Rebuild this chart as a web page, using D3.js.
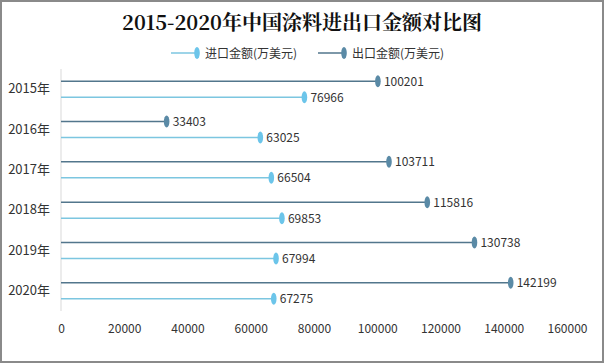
<!DOCTYPE html>
<html><head><meta charset="utf-8">
<script src="https://cdn.jsdelivr.net/npm/d3@7"></script>
<style>body{margin:0;background:#fff}svg{display:block}</style>
</head><body>
<script>
const years = ["2015年","2016年","2017年","2018年","2019年","2020年"];
const importValues = [76966, 63025, 66504, 69853, 67994, 67275];
const exportValues = [100201, 33403, 103711, 115816, 130738, 142199];
const xTicks = [0,20000,40000,60000,80000,100000,120000,140000,160000];
const seriesNames = ["进口金额(万美元)","出口金额(万美元)"];
const title = "2015-2020年中国涂料进出口金额对比图";

const W = 605, H = 364;
const importLine = "#7cc6e0", importMark = "#6cc5ea";
const exportLine = "#52768c", exportMark = "#5a8aa6";
const font = "'Microsoft YaHei','Noto Sans CJK SC','DejaVu Sans',sans-serif";

const svg = d3.select("body").append("svg").attr("width", W).attr("height", H);
svg.append("rect").attr("x",1).attr("y",1).attr("width",W-3).attr("height",H-3)
  .attr("fill","#fff").attr("stroke","#8a8a8a").attr("stroke-width",2);

svg.append("text").attr("x",302).attr("y",30).attr("text-anchor","middle")
  .attr("font-family","'Noto Serif CJK SC','Liberation Serif','DejaVu Serif',serif")
  .attr("font-weight","bold").attr("font-size",20).attr("fill","#111").text(title);

const x = d3.scaleLinear().domain([0,160000]).range([61,567]);
const y = d3.scaleBand().domain(years).range([69,311]);

// legend
const legend = [{name:seriesNames[0], line:importLine, mark:importMark, x0:171},
                {name:seriesNames[1], line:exportLine, mark:exportMark, x0:318}];
legend.forEach(l=>{
  svg.append("line").attr("x1",l.x0).attr("x2",l.x0+26).attr("y1",53).attr("y2",53)
    .attr("stroke",l.line).attr("stroke-width",1.5);
  svg.append("ellipse").attr("cx",l.x0+26).attr("cy",53).attr("rx",2.8).attr("ry",6).attr("fill",l.mark);
  svg.append("text").attr("x",l.x0+34).attr("y",57.5).attr("font-family",font)
    .attr("font-size",12).attr("fill","#333").text(l.name);
});

// axis line
svg.append("line").attr("x1",61).attr("x2",61).attr("y1",69).attr("y2",311)
  .attr("stroke","#d9d9d9").attr("stroke-width",1);

// x axis
const xAxis = d3.axisBottom(x).tickValues(xTicks).tickSize(0).tickPadding(0).tickFormat(d3.format("d"));
const gx = svg.append("g").attr("transform","translate(0,324)").call(xAxis);
gx.select(".domain").remove();
gx.selectAll("text").attr("font-family",font).attr("font-size",12).attr("fill","#333");

// y axis labels
const yAxis = d3.axisLeft(y).tickSize(0).tickPadding(11);
const gy = svg.append("g").attr("transform","translate(61,0)").call(yAxis);
gy.select(".domain").remove();
gy.selectAll("text").attr("font-family",font).attr("font-size",13).attr("fill","#333");

const rows = years.map((yr,i)=>({yr, imp:importValues[i], exp:exportValues[i]}));
const series = [
  {key:"exp", off:-8, line:exportLine, mark:exportMark},
  {key:"imp", off:8, line:importLine, mark:importMark}
];
series.forEach(s=>{
  const g = svg.append("g");
  const cy = d => y(d.yr) + y.bandwidth()/2 + s.off;
  g.selectAll("line").data(rows).join("line")
    .attr("x1",x(0)).attr("x2",d=>x(d[s.key])).attr("y1",cy).attr("y2",cy)
    .attr("stroke",s.line).attr("stroke-width",1.5);
  g.selectAll("ellipse").data(rows).join("ellipse")
    .attr("cx",d=>x(d[s.key])).attr("cy",cy).attr("rx",2.8).attr("ry",6).attr("fill",s.mark);
  g.selectAll("text").data(rows).join("text")
    .attr("x",d=>x(d[s.key])+6).attr("y",d=>cy(d)+4.5)
    .attr("font-family",font).attr("font-size",12).attr("fill","#333")
    .text(d=>d[s.key]);
});
</script>
</body></html>
